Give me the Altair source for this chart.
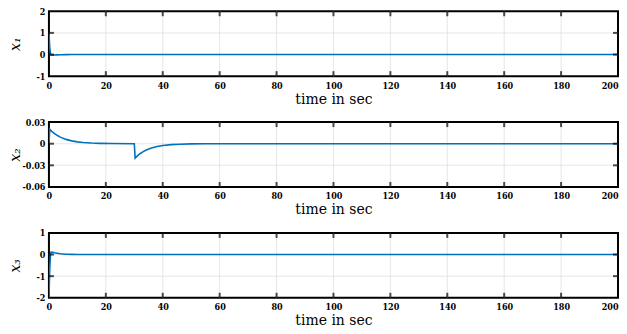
import altair as alt
import pandas as pd

# ---- data ----
t1 = [0, 0.3, 0.6, 1, 1.5, 2, 3, 4, 6, 8, 200]
x1 = [1, 0.3, -0.02, -0.035, -0.03, -0.025, -0.015, -0.008, -0.003, 0, 0]

t2 = [0, 0.3, 1, 2, 3, 4, 5, 6, 8, 10, 12, 15, 18, 22, 30,
      30.3, 31, 32, 33, 34, 36, 38, 40, 43, 46, 50, 55, 60, 200]
x2 = [0, 0.02, 0.0172, 0.0139, 0.0113, 0.0091, 0.0074, 0.006, 0.0039, 0.0025,
      0.0017, 0.0009, 0.0005, 0.0002, 0,
      -0.02, -0.0172, -0.0139, -0.0113, -0.0091, -0.006, -0.0039, -0.0025,
      -0.0013, -0.0007, -0.0003, -0.0001, 0, 0]

t3 = [0, 0.3, 0.6, 1, 2, 3, 4, 6, 8, 10, 200]
x3 = [-2, -0.6, 0.1, 0.11, 0.08, 0.055, 0.035, 0.015, 0.007, 0.003, 0]

x_ticks = [0, 20, 40, 60, 80, 100, 120, 140, 160, 180, 200]
y1_ticks = [-1, 0, 1, 2]
y2_ticks = [-0.06, -0.03, 0, 0.03]
y3_ticks = [-2, -1, 0, 1]

W, H = 570, 65
BLUE = "#0072BD"
LABEL_FONT = "DejaVu Serif Condensed, DejaVu Serif"
TITLE_FONT = "DejaVu Serif"
TL = 5  # inward tick length


def panel(ts, vals, ticks, title):
    df = pd.DataFrame({"t": ts, "v": vals})
    xs = alt.Scale(domain=[0, 200], nice=False, zero=False)
    ys = alt.Scale(domain=[ticks[0], ticks[-1]], nice=False, zero=False)
    xaxis = alt.Axis(values=x_ticks, title="time in sec", grid=False,
                     ticks=False, domain=False, labelPadding=5,
                     titlePadding=2, labelFlush=False, labelOverlap=False,
                     labelAlign={"condition": {"test": "datum.value >= 200", "value": "right"},
                                 "value": "center"},
                     labelFont=LABEL_FONT, titleFont=TITLE_FONT)
    yaxis = alt.Axis(values=ticks, title=title, grid=False, ticks=False,
                     domain=False, labelPadding=4, titlePadding=1,
                     labelOverlap=False, labelFlush=False,
                     labelExpr="datum.value + ''", minExtent=25, maxExtent=25,
                     labelFont=LABEL_FONT, titleFont=TITLE_FONT,
                     titleFontStyle="italic")
    X = alt.X("t:Q", scale=xs, axis=xaxis)
    Y = alt.Y("v:Q", scale=ys, axis=yaxis)
    inner_x = pd.DataFrame({"t": x_ticks[1:-1]})
    inner_y = pd.DataFrame({"v": ticks[1:-1]})
    gx = alt.Chart(inner_x).mark_tick(color="#dcdcdc", thickness=1, size=H).encode(
        x=X, y=alt.value(H / 2))
    gy = alt.Chart(inner_y).mark_tick(color="#dcdcdc", thickness=1, size=W).encode(
        y=Y, x=alt.value(W / 2))
    line = alt.Chart(df).mark_line(color=BLUE, strokeWidth=1.6, clip=True).encode(x=X, y=Y)
    xt_top = alt.Chart(inner_x).mark_tick(color="black", thickness=2, size=TL).encode(
        x=X, y=alt.value(TL / 2))
    xt_bot = alt.Chart(inner_x).mark_tick(color="black", thickness=2, size=TL).encode(
        x=X, y=alt.value(H - TL / 2))
    yt_l = alt.Chart(inner_y).mark_tick(color="black", thickness=2, size=TL).encode(
        y=Y, x=alt.value(TL / 2))
    yt_r = alt.Chart(inner_y).mark_tick(color="black", thickness=2, size=TL).encode(
        y=Y, x=alt.value(W - TL / 2))
    return alt.layer(gx, gy, line, xt_top, xt_bot, yt_l, yt_r).properties(width=W, height=H)


chart = alt.vconcat(
    panel(t1, x1, y1_ticks, "x\u2081"),
    panel(t2, x2, y2_ticks, "x\u2082"),
    panel(t3, x3, y3_ticks, "x\u2083"),
    spacing=10,
).properties(
    padding={"left": 0, "top": -2, "right": 0, "bottom": 0}
).configure_view(stroke="black", strokeWidth=2).configure_axis(
    labelFontWeight="bold", labelFontSize=9, labelColor="black",
    titleFontSize=14, titleFontWeight="normal", titleColor="black",
)

chart.save("out.html", embed_options={"renderer": "svg", "actions": False})
